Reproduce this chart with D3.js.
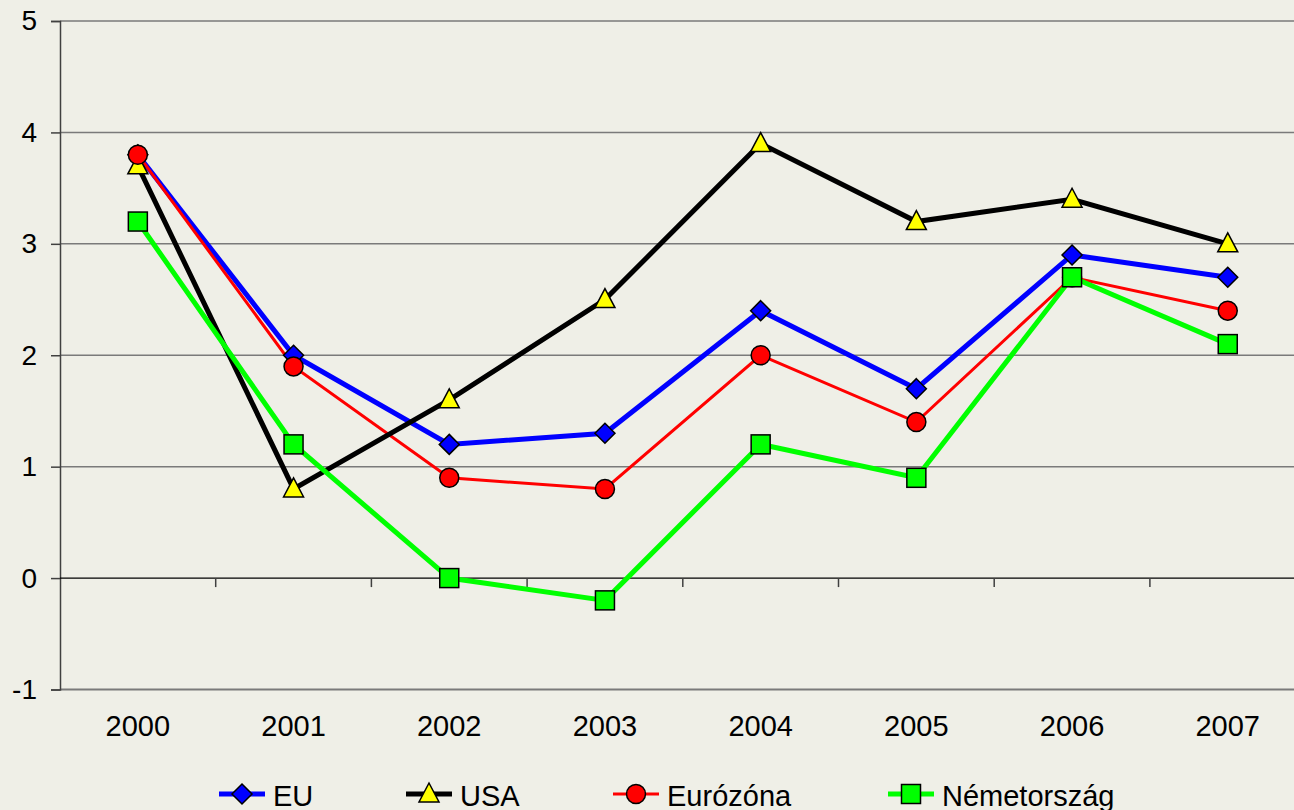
<!DOCTYPE html>
<html><head><meta charset="utf-8">
<script src="https://cdn.jsdelivr.net/npm/d3@7"></script>
<style>
html,body{margin:0;padding:0;background:#EFEFE7;overflow:hidden;}
text{font-family:"Liberation Sans",Arial,sans-serif;fill:#000;}
</style></head>
<body>
<svg id="c" width="1294" height="810"></svg>
<script>
const years = ["2000","2001","2002","2003","2004","2005","2006","2007"];
const yTicks = [-1,0,1,2,3,4,5];
const yTickLabels = ["-1","0","1","2","3","4","5"];
const euValues = [3.8,2.0,1.2,1.3,2.4,1.7,2.9,2.7];
const usaValues = [3.7,0.8,1.6,2.5,3.9,3.2,3.4,3.0];
const eurozoneValues = [3.8,1.9,0.9,0.8,2.0,1.4,2.7,2.4];
const germanyValues = [3.2,1.2,0.0,-0.2,1.2,0.9,2.7,2.1];
const seriesNames = ["EU","USA","Eurózóna","Németország"];

const series = [
  {name:seriesNames[0], values:euValues, color:"#0000FF", width:5, marker:"diamond", fill:"#0000FF"},
  {name:seriesNames[1], values:usaValues, color:"#000000", width:5, marker:"triangle", fill:"#FFFF00"},
  {name:seriesNames[2], values:eurozoneValues, color:"#FF0000", width:3, marker:"circle", fill:"#FF0000"},
  {name:seriesNames[3], values:germanyValues, color:"#00FF00", width:5, marker:"square", fill:"#00FF00"}
];
const lineOrder = [0,2,1,3];
const markerOrder = [0,1,2,3];

const svg = d3.select("#c");
const x = d3.scaleBand().domain(years).range([60, 1305.6]).padding(0);
const y = d3.scaleLinear().domain([-1,5]).range([689.5, 21]);
const cx = d => x(d) + x.bandwidth()/2;

// gridlines
svg.append("g").selectAll("line").data(yTicks.filter(t=>t>0)).join("line")
  .attr("x1",60).attr("x2",1294).attr("y1",d=>y(d)).attr("y2",d=>y(d))
  .attr("stroke","#7a7a7a").attr("stroke-width",1.5);
svg.append("line").attr("x1",60).attr("x2",1294).attr("y1",y(-1)).attr("y2",y(-1))
  .attr("stroke","#7a7a7a").attr("stroke-width",2);

// y axis
const yAxis = svg.append("g").attr("transform","translate(60,0)")
  .call(d3.axisLeft(y).tickValues(yTicks).tickSize(9).tickPadding(14)
    .tickFormat((d,i)=>yTickLabels[i]));
yAxis.select(".domain").attr("stroke","#404040").attr("stroke-width",1.5);
yAxis.selectAll(".tick line").attr("stroke","#404040").attr("stroke-width",1.5);
yAxis.selectAll(".tick text").attr("font-size","28px").attr("font-family","Liberation Sans, Arial, sans-serif").attr("fill","#000");

// x axis at zero
const boundaries = years.slice(1).map(d=>x(d));
svg.append("line").attr("x1",60).attr("x2",1294).attr("y1",y(0)).attr("y2",y(0))
  .attr("stroke","#000").attr("stroke-width",1.2);
svg.append("g").selectAll("line").data(boundaries).join("line")
  .attr("x1",d=>d).attr("x2",d=>d).attr("y1",y(0)).attr("y2",y(0)+9)
  .attr("stroke","#404040").attr("stroke-width",1.5);

// x labels
svg.append("g").selectAll("text").data(years).join("text")
  .attr("x",d=>cx(d)).attr("y",736).attr("text-anchor","middle")
  .attr("font-size","29px").text(d=>d);

// lines
const line = d3.line().x((d,i)=>cx(years[i])).y(d=>y(d));
lineOrder.forEach(k=>{
  const s = series[k];
  svg.append("path").attr("d",line(s.values)).attr("fill","none")
    .attr("stroke",s.color).attr("stroke-width",s.width).attr("stroke-linejoin","miter");
});

function drawMarker(g, type, px, py, fill){
  let sel;
  if(type==="diamond"){
    sel = g.append("path").attr("d",`M${px},${py-10}L${px+10},${py}L${px},${py+10}L${px-10},${py}Z`);
  } else if(type==="triangle"){
    sel = g.append("path").attr("d",`M${px},${py-11}L${px+10},${py+8}L${px-10},${py+8}Z`);
  } else if(type==="circle"){
    sel = g.append("circle").attr("cx",px).attr("cy",py).attr("r",9.5);
  } else {
    sel = g.append("rect").attr("x",px-9.5).attr("y",py-9.5).attr("width",19).attr("height",19);
  }
  sel.attr("fill",fill).attr("stroke","#000").attr("stroke-width",1.5);
}

const mg = svg.append("g");
markerOrder.forEach(k=>{
  const s = series[k];
  s.values.forEach((v,i)=>drawMarker(mg, s.marker, cx(years[i]), y(v), s.fill));
});

// legend
const legendX = [219, 406, 613, 888];
const lg = svg.append("g");
series.forEach((s,k)=>{
  const lx = legendX[k], ly = 794;
  lg.append("line").attr("x1",lx).attr("x2",lx+46).attr("y1",ly).attr("y2",ly)
    .attr("stroke",s.color).attr("stroke-width",s.width);
  drawMarker(lg, s.marker, lx+23, ly, s.fill);
  lg.append("text").attr("x",lx+54).attr("y",806).attr("font-size","29px").text(s.name);
});
</script>
</body></html>
